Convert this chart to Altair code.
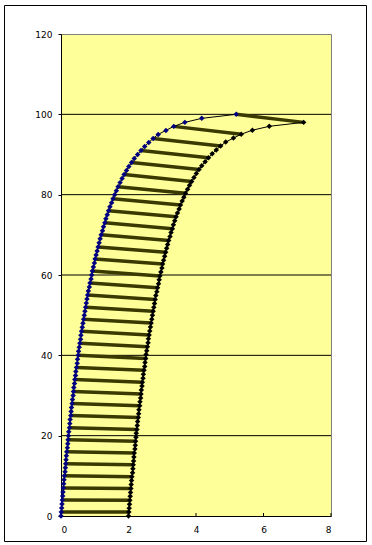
import altair as alt
import pandas as pd

# left (blue) curve: x values at y = 0..100
left_y = [0, 1, 2, 3, 4, 5, 6, 7, 8, 9,
          10, 11, 12, 13, 14, 15, 16, 17, 18, 19,
          20, 21, 22, 23, 24, 25, 26, 27, 28, 29,
          30, 31, 32, 33, 34, 35, 36, 37, 38, 39,
          40, 41, 42, 43, 44, 45, 46, 47, 48, 49,
          50, 51, 52, 53, 54, 55, 56, 57, 58, 59,
          60, 61, 62, 63, 64, 65, 66, 67, 68, 69,
          70, 71, 72, 73, 74, 75, 76, 77, 78, 79,
          80, 81, 82, 83, 84, 85, 86, 87, 88, 89,
          90, 91, 92, 93, 94, 95, 96, 97, 98, 99,
          100]
left_x = [0.00, 0.01, 0.02, 0.03, 0.04, 0.05, 0.06, 0.07, 0.08, 0.09,
          0.10, 0.12, 0.13, 0.14, 0.15, 0.16, 0.17, 0.19, 0.20, 0.21,
          0.22, 0.23, 0.25, 0.26, 0.27, 0.29, 0.30, 0.31, 0.33, 0.34,
          0.36, 0.37, 0.38, 0.40, 0.41, 0.43, 0.44, 0.46, 0.48, 0.49,
          0.51, 0.52, 0.54, 0.56, 0.58, 0.59, 0.61, 0.63, 0.65, 0.67,
          0.69, 0.71, 0.73, 0.75, 0.77, 0.79, 0.81, 0.84, 0.86, 0.89,
          0.91, 0.93, 0.96, 0.99, 1.01, 1.04, 1.07, 1.10, 1.13, 1.16,
          1.19, 1.23, 1.26, 1.30, 1.33, 1.37, 1.41, 1.45, 1.50, 1.54,
          1.59, 1.64, 1.69, 1.75, 1.81, 1.87, 1.94, 2.01, 2.09, 2.17,
          2.27, 2.37, 2.48, 2.60, 2.73, 2.88, 3.11, 3.34, 3.67, 4.17,
          5.19]

# right (black) curve
right_x = [2.00, 2.01, 2.02, 2.03, 2.04, 2.05, 2.06, 2.07, 2.08, 2.09,
           2.10, 2.12, 2.13, 2.14, 2.15, 2.16, 2.17, 2.19, 2.20, 2.21,
           2.22, 2.23, 2.25, 2.26, 2.27, 2.29, 2.30, 2.31, 2.33, 2.34,
           2.36, 2.37, 2.38, 2.40, 2.41, 2.43, 2.44, 2.46, 2.48, 2.49,
           2.51, 2.52, 2.54, 2.56, 2.58, 2.59, 2.61, 2.63, 2.65, 2.67,
           2.69, 2.71, 2.73, 2.75, 2.77, 2.79, 2.81, 2.84, 2.86, 2.89,
           2.91, 2.93, 2.96, 2.99, 3.01, 3.04, 3.07, 3.10, 3.13, 3.16,
           3.19, 3.23, 3.26, 3.30, 3.33, 3.37, 3.41, 3.45, 3.50, 3.54,
           3.59, 3.64, 3.69, 3.75, 3.81, 3.87, 3.94, 4.01, 4.09, 4.17,
           4.27, 4.37, 4.48, 4.60, 4.73, 4.88, 5.11, 5.34, 5.67, 6.17,
           7.19]
right_y = [0.00, 0.98, 1.96, 2.94, 3.92, 4.90, 5.88, 6.86, 7.84, 8.82,
           9.80, 10.78, 11.76, 12.74, 13.72, 14.70, 15.68, 16.66, 17.64, 18.62,
           19.60, 20.58, 21.56, 22.54, 23.52, 24.50, 25.48, 26.46, 27.44, 28.42,
           29.40, 30.38, 31.36, 32.34, 33.32, 34.30, 35.28, 36.26, 37.24, 38.22,
           39.20, 40.18, 41.16, 42.14, 43.12, 44.10, 45.08, 46.06, 47.04, 48.02,
           49.00, 49.98, 50.96, 51.94, 52.92, 53.90, 54.88, 55.86, 56.84, 57.82,
           58.80, 59.78, 60.76, 61.74, 62.72, 63.70, 64.68, 65.66, 66.64, 67.62,
           68.60, 69.58, 70.56, 71.54, 72.52, 73.50, 74.48, 75.46, 76.44, 77.42,
           78.40, 79.38, 80.36, 81.34, 82.32, 83.30, 84.28, 85.26, 86.24, 87.22,
           88.20, 89.18, 90.16, 91.14, 92.12, 93.10, 94.08, 95.06, 96.04, 97.02,
           98.00]

# indices of the point pairs joined by thick bars
pair_idx = [1, 4, 7, 10, 13, 16, 19, 22, 25, 28, 31, 34, 37, 40, 43, 46, 49,
            52, 55, 58, 61, 64, 67, 70, 73, 76, 79, 82, 85, 88, 91, 94, 97, 100]

grid_vals = [20, 40, 60, 80, 100]
x_ticks = [0, 2, 4, 6, 8]
y_ticks = [0, 20, 40, 60, 80, 100, 120]

W, H = 270, 482
FONT = "DejaVu Sans"

left_df = pd.DataFrame({"x": left_x, "y": left_y, "i": list(range(len(left_x)))})
right_df = pd.DataFrame({"x": right_x, "y": right_y, "i": list(range(len(right_x)))})
seg_df = pd.DataFrame({
    "x": [left_x[k] for k in pair_idx],
    "y": [left_y[k] for k in pair_idx],
    "x2": [right_x[k] for k in pair_idx],
    "y2": [right_y[k] for k in pair_idx],
})

xs = alt.Scale(domain=[0, 8], nice=False, zero=False)
ys = alt.Scale(domain=[0, 120], nice=False, zero=False)

x_axis = alt.Axis(values=x_ticks, ticks=False, labelPadding=9, domainColor="black",
                  labelFont=FONT, labelFontSize=9, labelColor="black", grid=False,
                  title=None)
y_axis = alt.Axis(values=y_ticks, tickSize=3, tickColor="black", labelPadding=6,
                  domainColor="black", labelFont=FONT, labelFontSize=9,
                  labelColor="black", grid=False, title=None)

frame = alt.Chart(alt.Data(values=[{"a": 1}])).mark_rect(
    fill=None, stroke="black", strokeWidth=1
).encode(x=alt.value(-56.5), x2=alt.value(305.5), y=alt.value(-28.5), y2=alt.value(507.5))

grid = alt.Chart(pd.DataFrame({"g": grid_vals})).mark_rule(color="black", strokeWidth=1).encode(
    y=alt.Y("g:Q", scale=ys, axis=y_axis)
)

xt = alt.Chart(pd.DataFrame({"t": x_ticks})).mark_rule(color="black", strokeWidth=1).encode(
    x=alt.X("t:Q", scale=xs, axis=x_axis), y=alt.value(H), y2=alt.value(H - 3)
)

segs = alt.Chart(seg_df).mark_rule(color="#3a3a00", strokeWidth=3.5).encode(
    x=alt.X("x:Q", scale=xs), y=alt.Y("y:Q", scale=ys),
    x2="x2:Q", y2="y2:Q"
)

left_line = alt.Chart(left_df).mark_line(color="black", strokeWidth=1).encode(
    x=alt.X("x:Q", scale=xs), y=alt.Y("y:Q", scale=ys), order="i:Q"
)
left_pts = alt.Chart(left_df).mark_point(shape="diamond", filled=True, color="#000080",
                                         size=30, opacity=1).encode(
    x=alt.X("x:Q", scale=xs), y=alt.Y("y:Q", scale=ys)
)
right_line = alt.Chart(right_df).mark_line(color="black", strokeWidth=1).encode(
    x=alt.X("x:Q", scale=xs), y=alt.Y("y:Q", scale=ys), order="i:Q"
)
right_pts = alt.Chart(right_df).mark_point(shape="diamond", filled=True, color="black",
                                           size=30, opacity=1).encode(
    x=alt.X("x:Q", scale=xs), y=alt.Y("y:Q", scale=ys)
)

chart = alt.layer(
    grid, xt, segs, left_line, right_line, left_pts, right_pts, frame
).properties(
    width=W, height=H,
    autosize=alt.AutoSizeParams(type="none"),
    padding={"left": 61, "top": 34, "right": 41, "bottom": 29},
    background="white",
).configure_view(
    fill="#FFFF99", stroke="#808080", strokeWidth=1
)

chart.save("out.html", embed_options={"renderer": "svg", "actions": False})
